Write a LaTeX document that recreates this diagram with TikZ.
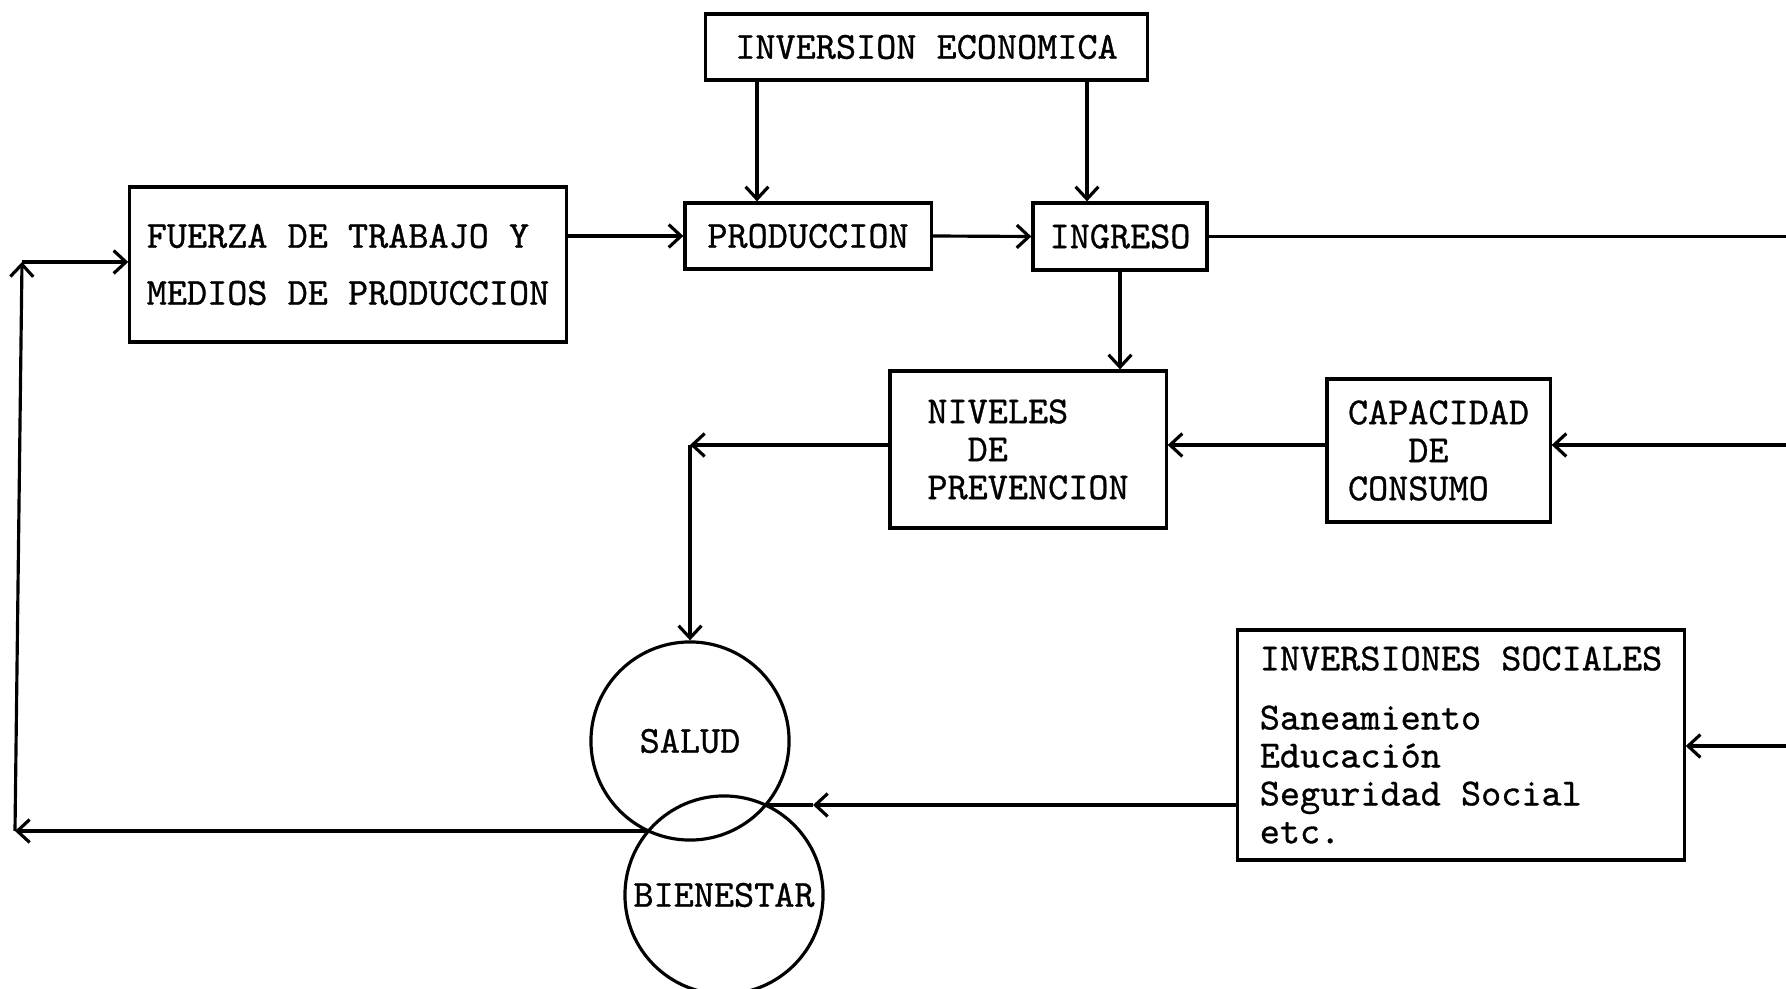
\documentclass[tikz,border=0pt]{standalone}
\usepackage{fontspec}
\setmonofont{Latin Modern Mono}[FakeBold=0.8]
\usetikzlibrary{arrows.meta}

\tikzset{
	caja/.style={draw, line width=0.9pt, inner sep=0pt, align=left},
	flecha/.style={line width=0.9pt, -{Straight Barb[length=3.5pt,width=6.5pt]}},
	linea/.style={line width=0.9pt}
}

\begin{document}
\begin{tikzpicture}[x=0.01cm, y=-0.01cm, font=\ttfamily\fontsize{10.9}{10.8}\selectfont]
		\useasboundingbox (0,0) rectangle (1786,989);
		\node[caja, minimum width=4.41cm, minimum height=0.66cm] (IE) at (926.5,47) {INVERSION ECONOMICA};
		\node[caja, minimum width=4.36cm, minimum height=1.55cm] (F) at (348,264.5) {FUERZA DE TRABAJO Y\\[5.4pt]MEDIOS DE PRODUCCION};
		\node[caja, minimum width=2.46cm, minimum height=0.66cm] (P) at (808,236) {PRODUCCION};
		\node[caja, minimum width=1.74cm, minimum height=0.67cm] (I) at (1120,236.5) {INGRESO};
		\node[caja, minimum width=2.76cm, minimum height=1.57cm] (N) at (1028,449.5) {NIVELES\\\phantom{NI}DE\\PREVENCION};
		\node[caja, minimum width=2.23cm, minimum height=1.43cm] (C) at (1438.5,450.5) {CAPACIDAD\\\phantom{CAP}DE\\CONSUMO};
		\node[caja, minimum width=4.46cm, minimum height=2.30cm] (IS) at (1461,745) {INVERSIONES SOCIALES\\[6pt]Saneamiento\\Educación\\Seguridad Social\\etc.};
		\node[circle, draw, line width=0.9pt, inner sep=0pt, minimum size=1.98cm] (S) at (690,741) {SALUD};
		\node[circle, draw, line width=0.9pt, inner sep=0pt, minimum size=1.98cm] (B) at (724,895) {BIENESTAR};
		\coordinate (XD) at (765,805);
		\coordinate (XI) at (649,831);
		\coordinate (M) at (813,805);
		\coordinate (L1) at (15,831);
		\coordinate (L2) at (22,262);
		\coordinate (R1) at (1786,240);
		\coordinate (R2) at (1786,445);
		\coordinate (R3) at (1786,746);
		\coordinate (E) at (690,445);
		\draw[flecha] ([xshift=-5.1mm]P.north |- IE.south) -- ([xshift=-5.1mm]P.north);
		\draw[flecha] ([xshift=-3.3mm]I.north |- IE.south) -- ([xshift=-3.3mm]I.north);
		\draw[flecha] (F.east |- P.west) -- (P.west);
		\draw[flecha] (P.east) -- (I.west);
		\draw[linea] (I.east) -- (I.east -| R1);
		\draw[flecha] (I.south) -- (I.south |- N.north);
		\draw[flecha] (R2) -- (C.east |- R2);
		\draw[flecha] (C.west |- R2) -- (N.east |- R2);
		\draw[flecha] (N.west |- R2) -- (E);
		\draw[flecha] (E) -- (S.north);
		\draw[flecha] (R3) -- (IS.east |- R3);
		\draw[flecha] (IS.west |- XD) -- (M);
		\draw[linea] (M) -- (XD);
		\draw[flecha] (XI) -- (L1);
		\draw[flecha] (L1) -- (L2);
		\draw[flecha] (L2) -- (F.west |- L2);
		\end{tikzpicture}
\end{document}
